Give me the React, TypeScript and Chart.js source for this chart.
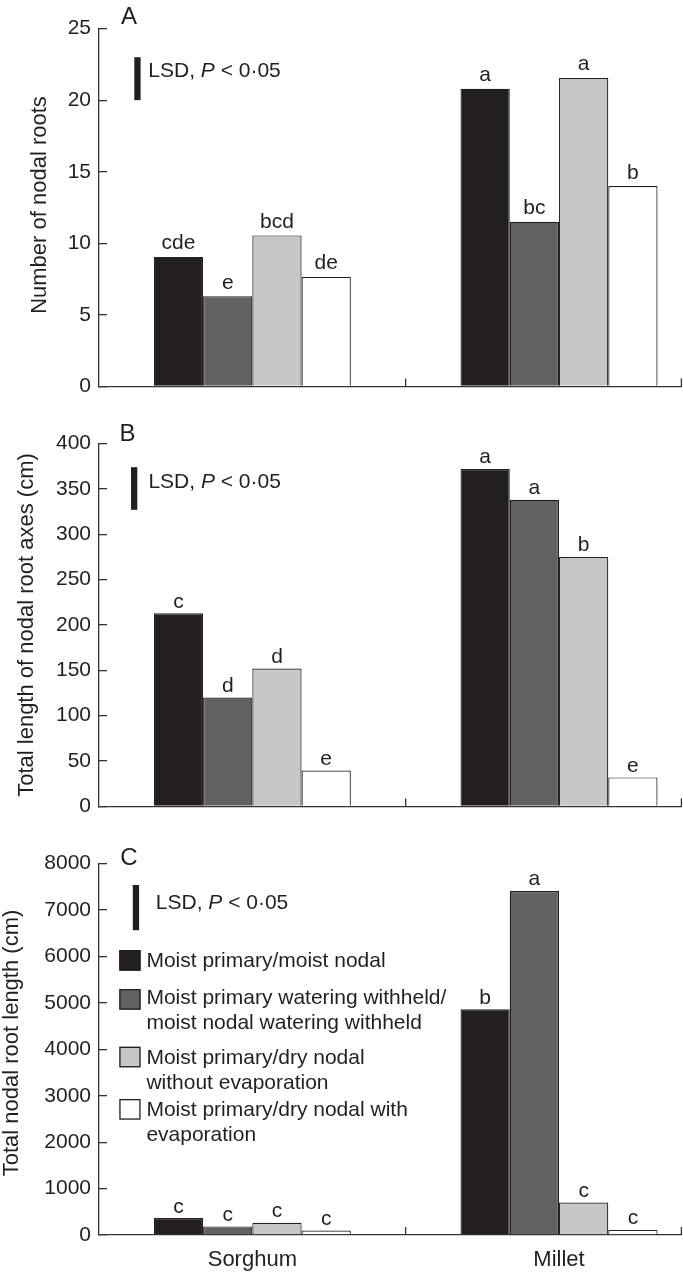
import React, { useEffect, useRef } from 'react';
import { Chart, registerables } from 'chart.js';

Chart.register(...registerables);

// ---------- data ----------
const categories = ['Sorghum', 'Millet'];
const treatments = [
  'Moist primary/moist nodal',
  'Moist primary watering withheld/moist nodal watering withheld',
  'Moist primary/dry nodal without evaporation',
  'Moist primary/dry nodal with evaporation',
];
const legendLines = [
  ['Moist primary/moist nodal'],
  ['Moist primary watering withheld/', 'moist nodal watering withheld'],
  ['Moist primary/dry nodal', 'without evaporation'],
  ['Moist primary/dry nodal with', 'evaporation'],
];

// Panel A: number of nodal roots
const rootNumberSorghum = [9.05, 6.3, 10.55, 7.65];
const rootNumberMillet = [20.8, 11.5, 21.55, 14.0];
const rootNumberLettersSorghum = ['cde', 'e', 'bcd', 'de'];
const rootNumberLettersMillet = ['a', 'bc', 'a', 'b'];
const rootNumberLSD = [20, 23];

// Panel B: total length of nodal root axes (cm)
const axesLengthSorghum = [213, 120, 152, 39.5];
const axesLengthMillet = [372, 338, 275, 32];
const axesLengthLettersSorghum = ['c', 'd', 'd', 'e'];
const axesLengthLettersMillet = ['a', 'a', 'b', 'e'];
const axesLengthLSD = [327, 374];

// Panel C: total nodal root length (cm)
const rootLengthSorghum = [365, 185, 262, 95];
const rootLengthMillet = [4865, 7410, 700, 110];
const rootLengthLettersSorghum = ['c', 'c', 'c', 'c'];
const rootLengthLettersMillet = ['b', 'a', 'c', 'c'];
const rootLengthLSD = [6565, 7540];

// ---------- style ----------
const FONT = '"Liberation Sans", Arial, Helvetica, sans-serif';
const INK = '#231f20';
const AXIS = '#333333';
const barColors = ['#231f20', '#616264', '#c6c7c9', '#ffffff'];

type PanelSpec = {
  key: string;
  top: number;
  height: number;
  padTop: number;
  padBottom: number;
  xHeight: number;
  showX: boolean;
  max: number;
  step: number;
  sorghum: number[];
  millet: number[];
  lettersS: string[];
  lettersM: string[];
  gap: number;
  lsd: number[];
  lsdX: number;
  lsdTextX: number;
  lsdTextBase: number;
  panelLetter: string;
  letterX: number;
  letterBase: number;
  title: string;
  titleX: number;
  titleY: number;
  legend: boolean;
};

const panels: PanelSpec[] = [
  {
    key: 'A', top: 0, height: 415, padTop: 14.5, padBottom: 9, xHeight: 10, showX: false,
    max: 25, step: 5,
    sorghum: rootNumberSorghum, millet: rootNumberMillet,
    lettersS: rootNumberLettersSorghum, lettersM: rootNumberLettersMillet, gap: 7.5,
    lsd: rootNumberLSD, lsdX: 134.3, lsdTextX: 148.3, lsdTextBase: 77,
    panelLetter: 'A', letterX: 129, letterBase: 24,
    title: 'Number of nodal roots', titleX: 46, titleY: 205, legend: false,
  },
  {
    key: 'B', top: 415, height: 420, padTop: 20, padBottom: 9, xHeight: 10, showX: false,
    max: 400, step: 50,
    sorghum: axesLengthSorghum, millet: axesLengthMillet,
    lettersS: axesLengthLettersSorghum, lettersM: axesLengthLettersMillet, gap: 5.5,
    lsd: axesLengthLSD, lsdX: 131, lsdTextX: 148.4, lsdTextBase: 487.5,
    panelLetter: 'B', letterX: 127.5, letterBase: 440.5,
    title: 'Total length of nodal root axes (cm)', titleX: 33, titleY: 625, legend: false,
  },
  {
    key: 'C', top: 835, height: 438, padTop: 19, padBottom: 0, xHeight: 38, showX: true,
    max: 8000, step: 1000,
    sorghum: rootLengthSorghum, millet: rootLengthMillet,
    lettersS: rootLengthLettersSorghum, lettersM: rootLengthLettersMillet, gap: 5.5,
    lsd: rootLengthLSD, lsdX: 132.8, lsdTextX: 155.8, lsdTextBase: 908.5,
    panelLetter: 'C', letterX: 129, letterBase: 865,
    title: 'Total nodal root length (cm)', titleX: 18, titleY: 1043, legend: true,
  },
];

const legendSquareTops = [950, 989, 1046.7, 1099];
const legendFirstBase = [967, 1004.2, 1063.5, 1115.8];

function decorPlugin(p: PanelSpec) {
  return {
    id: 'decor' + p.key,
    afterDraw(chart: any) {
      const ctx: CanvasRenderingContext2D = chart.ctx;
      const a = chart.chartArea;
      const xs = chart.scales.x;
      const ys = chart.scales.y;
      const off = p.top;
      ctx.save();

      // inward x tick marks
      ctx.strokeStyle = AXIS;
      ctx.lineWidth = 1.3;
      [1.5, xs.max].forEach((v: number) => {
        const px = Math.min(xs.getPixelForValue(v), a.right - 0.3);
        ctx.beginPath();
        ctx.moveTo(px, a.bottom);
        ctx.lineTo(px, a.bottom - 8);
        ctx.stroke();
      });

      // significance letters
      ctx.fillStyle = INK;
      ctx.font = `21px ${FONT}`;
      ctx.textAlign = 'center';
      ctx.textBaseline = 'alphabetic';
      for (let i = 0; i < treatments.length; i++) {
        const meta = chart.getDatasetMeta(i);
        meta.data.forEach((el: any, j: number) => {
          const txt = (j === 0 ? p.lettersS : p.lettersM)[i];
          ctx.fillText(txt, el.x, el.y - p.gap);
        });
      }

      // LSD bar
      const yTop = ys.getPixelForValue(p.lsd[1]);
      const yBot = ys.getPixelForValue(p.lsd[0]);
      ctx.fillStyle = INK;
      ctx.fillRect(p.lsdX, yTop, 6.3, yBot - yTop);

      // LSD text
      ctx.textAlign = 'left';
      let tx = p.lsdTextX;
      const tb = p.lsdTextBase - off;
      ctx.font = `21px ${FONT}`;
      ctx.fillText('LSD, ', tx, tb);
      tx += ctx.measureText('LSD, ').width;
      ctx.font = `italic 21px ${FONT}`;
      ctx.fillText('P', tx, tb);
      tx += ctx.measureText('P').width;
      ctx.font = `21px ${FONT}`;
      ctx.fillText(' < 0·05', tx, tb);

      // panel letter
      ctx.font = `24px ${FONT}`;
      ctx.textAlign = 'center';
      ctx.fillText(p.panelLetter, p.letterX, p.letterBase - off);

      // y-axis title
      ctx.save();
      ctx.translate(p.titleX, p.titleY - off);
      ctx.rotate(-Math.PI / 2);
      ctx.font = `22px ${FONT}`;
      ctx.textAlign = 'center';
      ctx.textBaseline = 'alphabetic';
      ctx.fillText(p.title, 0, 0);
      ctx.restore();

      // legend
      if (p.legend) {
        ctx.font = `21px ${FONT}`;
        ctx.textAlign = 'left';
        ctx.textBaseline = 'alphabetic';
        legendLines.forEach((lines, i) => {
          const sy = legendSquareTops[i] - off;
          ctx.fillStyle = barColors[i];
          ctx.fillRect(119.3, sy, 21.3, 20.7);
          ctx.strokeStyle = INK;
          ctx.lineWidth = 1.3;
          ctx.strokeRect(119.3 + 0.65, sy + 0.65, 21.3 - 1.3, 20.7 - 1.3);
          ctx.fillStyle = INK;
          lines.forEach((ln, k) => {
            ctx.fillText(ln, 146.4, legendFirstBase[i] - off + k * 25);
          });
        });
      }

      ctx.restore();
    },
  };
}

function makeConfig(p: PanelSpec): any {
  return {
    type: 'bar',
    data: {
      datasets: treatments.map((t, i) => ({
        label: t,
        data: [
          { x: 1, y: p.sorghum[i] },
          { x: 2, y: p.millet[i] },
        ],
        backgroundColor: barColors[i],
        borderColor: INK,
        borderWidth: 1.2,
        borderSkipped: 'start',
        categoryPercentage: 0.6423,
        barPercentage: 1,
      })),
    },
    options: {
      responsive: false,
      animation: false,
      events: [],
      layout: { padding: { top: p.padTop, bottom: p.padBottom, left: 0, right: 1.3 } },
      plugins: {
        legend: { display: false },
        tooltip: { enabled: false },
        title: { display: false },
      },
      scales: {
        x: {
          type: 'linear',
          min: 0.5,
          max: 2.4,
          offset: false,
          afterBuildTicks: (s: any) => {
            s.ticks = [{ value: 1 }, { value: 2 }];
          },
          afterFit: (s: any) => {
            s.height = p.xHeight;
          },
          grid: { display: false, drawTicks: false, offset: false },
          border: { display: true, color: AXIS, width: 1.3 },
          ticks: {
            display: p.showX,
            padding: 12,
            maxRotation: 0,
            autoSkip: false,
            color: INK,
            font: { family: FONT, size: 22 },
            callback: (v: number) => (v === 1 ? categories[0] : v === 2 ? categories[1] : ''),
          },
        },
        y: {
          type: 'linear',
          min: 0,
          max: p.max,
          afterFit: (s: any) => {
            s.width = 99;
          },
          grid: {
            display: true,
            drawOnChartArea: false,
            drawTicks: true,
            tickLength: -8,
            color: AXIS,
            lineWidth: 1.3,
          },
          border: { display: true, color: AXIS, width: 1.3 },
          ticks: {
            stepSize: p.step,
            padding: 16,
            color: INK,
            font: { family: FONT, size: 21 },
            callback: (v: number) => String(v),
          },
        },
      },
    },
    plugins: [decorPlugin(p)],
  };
}

export default function App() {
  const refs = useRef<(HTMLCanvasElement | null)[]>([]);

  useEffect(() => {
    const charts = panels.map((p, i) => new Chart(refs.current[i] as HTMLCanvasElement, makeConfig(p)));
    return () => {
      charts.forEach((c) => c.destroy());
    };
  }, []);

  return (
    <div style={{ position: 'absolute', left: 0, top: 0, width: 683, height: 1273, background: '#ffffff' }}>
      {panels.map((p, i) => (
        <canvas
          key={p.key}
          ref={(el) => {
            refs.current[i] = el;
          }}
          width={683}
          height={p.height}
          style={{ position: 'absolute', left: 0, top: p.top, width: 683, height: p.height }}
        />
      ))}
    </div>
  );
}
